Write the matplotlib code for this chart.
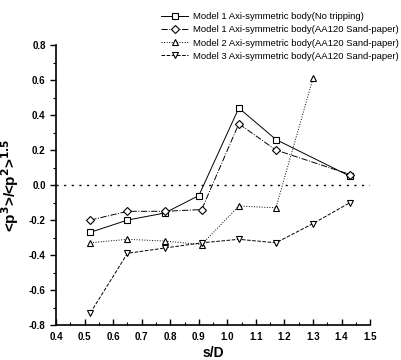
import matplotlib
matplotlib.use("Agg")
import matplotlib.pyplot as plt
from matplotlib.ticker import MultipleLocator

plt.rcParams['font.family'] = ['Liberation Sans', 'DejaVu Sans']
plt.rcParams['mathtext.default'] = 'bf'

labels = [
    "Model 1 Axi-symmetric body(No tripping)",
    "Model 1 Axi-symmetric body(AA120 Sand-paper)",
    "Model 2 Axi-symmetric body(AA120 Sand-paper)",
    "Model 3 Axi-symmetric body(AA120 Sand-paper)",
]

x_m1_nt = [0.52, 0.65, 0.78, 0.90, 1.04, 1.17, 1.43]
y_m1_nt = [-0.27, -0.20, -0.16, -0.06, 0.44, 0.26, 0.05]

x_m1_sp = [0.52, 0.65, 0.78, 0.91, 1.04, 1.17, 1.43]
y_m1_sp = [-0.20, -0.15, -0.15, -0.14, 0.35, 0.20, 0.06]

x_m2_sp = [0.52, 0.65, 0.78, 0.91, 1.04, 1.17, 1.30]
y_m2_sp = [-0.33, -0.31, -0.32, -0.34, -0.12, -0.13, 0.61]

x_m3_sp = [0.52, 0.65, 0.78, 0.91, 1.04, 1.17, 1.30, 1.43]
y_m3_sp = [-0.73, -0.39, -0.36, -0.33, -0.31, -0.33, -0.22, -0.10]

x_ref = [0.4, 1.5]
y_ref = [0.0, 0.0]

fig = plt.figure(figsize=(4.01, 3.6), dpi=100)
ax = fig.add_axes([0.14, 0.097, 0.783, 0.778])

mk = dict(markerfacecolor='white', markeredgecolor='black', markeredgewidth=0.8, color='black', linewidth=0.7)
ax.plot(x_ref, y_ref, linestyle=(0, (1.5, 4)), color='black', linewidth=1.0, zorder=1)
l1, = ax.plot(x_m1_nt, y_m1_nt, linestyle='-', marker='s', markersize=5, label=labels[0], **mk)
l2, = ax.plot(x_m1_sp, y_m1_sp, linestyle='-.', marker='D', markersize=4, label=labels[1], **mk)
l3, = ax.plot(x_m2_sp, y_m2_sp, linestyle=':', marker='^', markersize=5, label=labels[2], **mk)
l4, = ax.plot(x_m3_sp, y_m3_sp, linestyle='--', marker='v', markersize=5, label=labels[3], **mk)

ax.set_xlim(0.4, 1.5)
ax.set_ylim(-0.8, 0.8)
ax.xaxis.set_minor_locator(MultipleLocator(0.05))
ax.yaxis.set_minor_locator(MultipleLocator(0.1))
ax.set_xticks([0.4, 0.5, 0.6, 0.7, 0.8, 0.9, 1.0, 1.1, 1.2, 1.3, 1.4, 1.5])
ax.set_xticklabels(['0.4', '0.5', '0.6', '0.7', '0.8', '0.9', '1.0', '1.1', '1.2', '1.3', '1.4', '1.5'])
ax.set_yticks([-0.8, -0.6, -0.4, -0.2, 0.0, 0.2, 0.4, 0.6, 0.8])
ax.set_yticklabels(['-0.8', '-0.6', '-0.4', '-0.2', '0.0', '0.2', '0.4', '0.6', '0.8'])
for lab in ax.get_xticklabels() + ax.get_yticklabels():
    lab.set_fontweight('bold')
ax.tick_params(axis='x', which='major', direction='in', length=4, width=1, labelsize=7, pad=5)
ax.tick_params(axis='x', which='minor', direction='in', length=2.5, width=0.8)
ax.tick_params(axis='y', which='major', direction='out', length=4, width=1, labelsize=7)
ax.tick_params(axis='y', which='minor', direction='out', length=2.5, width=0.8)

for s in ['top', 'right']:
    ax.spines[s].set_visible(False)
for s in ['left', 'bottom']:
    ax.spines[s].set_linewidth(1.2)

ax.set_xlabel('s/D', fontsize=10, fontweight='bold', labelpad=3)
ax.set_ylabel(r'<p$^{3}$>/<p$^{2}$>$^{1.5}$', fontsize=11, fontweight='bold', labelpad=6)

fig.legend(handles=[l1, l2, l3, l4], labels=labels, loc='upper right',
           bbox_to_anchor=(1.01, 0.985), frameon=False, fontsize=6.8,
           handlelength=2.8, handletextpad=0.5, labelspacing=0.45, borderaxespad=0.3)

fig.savefig('out.png', dpi=100)
